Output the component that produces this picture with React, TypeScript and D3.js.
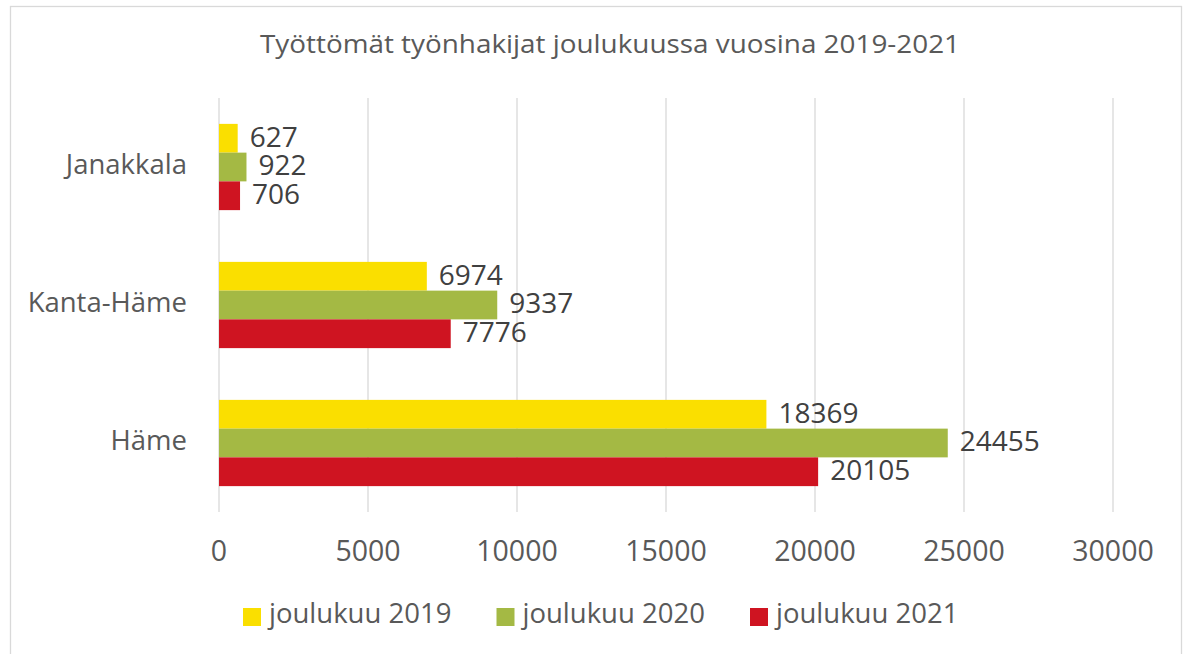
import React from 'react'
import * as d3 from 'd3'

const title = 'Työttömät työnhakijat joulukuussa vuosina 2019-2021'
const regions = ['Janakkala', 'Kanta-Häme', 'Häme']
const seriesNames = ['joulukuu 2019', 'joulukuu 2020', 'joulukuu 2021']
const seriesColors = ['#FADF00', '#A4B944', '#CF1421']
const values2019 = [627, 6974, 18369]
const values2020 = [922, 9337, 24455]
const values2021 = [706, 7776, 20105]
const xTicks = [0, 5000, 10000, 15000, 20000, 25000, 30000]

const width = 1187
const height = 654
const margin = { top: 98, left: 219, bottom: 142, right: 74 }
const textColor = '#595959'
const font = '"Open Sans", "Noto Sans", sans-serif'

const App: React.FunctionComponent = () => {
  const series = [values2019, values2020, values2021]

  const xScale = d3
    .scaleLinear()
    .domain([0, 30000])
    .range([margin.left, width - margin.right])

  const yScale = d3
    .scaleBand<string>()
    .domain(regions)
    .range([margin.top, height - margin.bottom])
    .padding(0)

  // bars inside each region group
  const inner = d3
    .scaleBand<number>()
    .domain([0, 1, 2])
    .range([0, yScale.bandwidth()])
    .paddingInner(0)
    .paddingOuter(0.9)

  // legend laid out as a band across the bottom
  const legendX = d3.scalePoint<string>().domain(seriesNames).range([243, 750])

  const plotBottom = height - margin.bottom

  return (
    <svg
      width={width}
      height={height}
      style={{ position: 'absolute', left: 0, top: 0, fontFamily: font }}
    >
      <rect x={0} y={0} width={width} height={height} fill="#fff" />
      <rect
        x={10.5}
        y={6.5}
        width={1171}
        height={700}
        fill="none"
        stroke="#d9d9d9"
        strokeWidth={1.3}
      />
      <text
        x={610}
        y={46}
        textAnchor="middle"
        dominantBaseline="middle"
        fontSize={26}
        textLength={700}
        lengthAdjust="spacingAndGlyphs"
        fill={textColor}
      >
        {title}
      </text>

      {xTicks.map(t => (
        <line
          key={t}
          x1={xScale(t)}
          x2={xScale(t)}
          y1={margin.top}
          y2={plotBottom}
          stroke="#d9d9d9"
          strokeWidth={1.3}
        />
      ))}

      {xTicks.map(t => (
        <text
          key={t}
          x={xScale(t)}
          y={553}
          textAnchor="middle"
          dominantBaseline="middle"
          fontSize={28.5}
          fill={textColor}
        >
          {t}
        </text>
      ))}

      {regions.map(r => (
        <text
          key={r}
          x={187}
          y={(yScale(r) || 0) + yScale.bandwidth() / 2}
          textAnchor="end"
          dominantBaseline="middle"
          fontSize={27.5}
          fill={textColor}
        >
          {r}
        </text>
      ))}

      {regions.map((r, ri) =>
        series.map((vals, si) => {
          const y = (yScale(r) || 0) + (inner(si) || 0)
          const h = inner.bandwidth()
          return (
            <g key={r + si}>
              <rect
                x={xScale(0)}
                y={y}
                width={xScale(vals[ri]) - xScale(0)}
                height={h}
                fill={seriesColors[si]}
              />
              <text
                x={xScale(vals[ri]) + 12}
                y={y + h / 2 + 1}
                dominantBaseline="middle"
                fontSize={28}
                fill="#404040"
              >
                {vals[ri]}
              </text>
            </g>
          )
        })
      )}

      {seriesNames.map((name, i) => {
        const lx = legendX(name) || 0
        return (
          <g key={name}>
            <rect x={lx} y={608} width={18} height={18} fill={seriesColors[i]} />
            <text
              x={lx + 26}
              y={616}
              dominantBaseline="middle"
              fontSize={27.5}
              fill={textColor}
            >
              {name}
            </text>
          </g>
        )
      })}
    </svg>
  )
}

export default App
